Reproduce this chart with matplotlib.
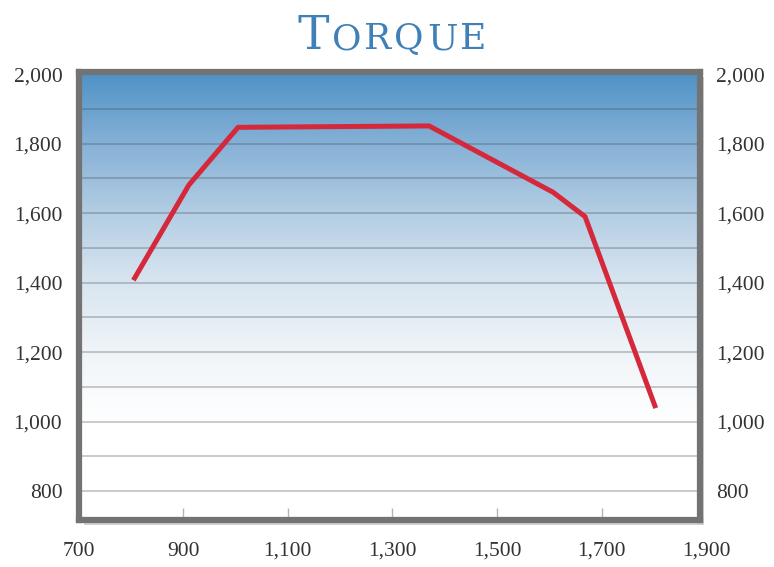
import matplotlib.pyplot as plt
import numpy as np
from matplotlib.colors import LinearSegmentedColormap
from matplotlib.patches import Rectangle
import matplotlib.transforms as mtransforms

# Données
rpm = [805, 911, 1005, 1370, 1607, 1668, 1803]
torque = [1407, 1681, 1847, 1851, 1660, 1590, 1039]
x_ticks = [700, 900, 1100, 1300, 1500, 1700, 1900]
y_ticks = [800, 1000, 1200, 1400, 1600, 1800, 2000]

fig = plt.figure(figsize=(7.74, 5.67), dpi=100)
ax_rect = [0.102, 0.0829, 0.802, 0.790]
ax = fig.add_axes(ax_rect)

xmin, xmax = 701, 1887
ymin, ymax = 717, 2006

# Fond en dégradé bleu -> blanc
cmap = LinearSegmentedColormap.from_list(
    'bg', [(0.0, '#ffffff'), (0.22, '#ffffff'), (0.377, '#eff4f8'),
           (0.532, '#d8e5f0'), (0.687, '#b3cde3'), (0.841, '#86b1d6'),
           (1.0, '#4f92c6')])
grad = np.linspace(0, 1, 256).reshape(-1, 1).repeat(4, axis=1)
ax.imshow(grad, cmap=cmap, aspect='auto', origin='lower',
          extent=[xmin, xmax, ymin, ymax], zorder=0, interpolation='bilinear')

# Grille horizontale tous les 100
for yv in np.arange(800, 2001, 100):
    ax.axhline(yv, color='#3d4750', alpha=0.3, linewidth=1.3, zorder=1)

ax.plot(rpm, torque, color='#d5283a', linewidth=3.6, solid_joinstyle='round',
        solid_capstyle='butt', zorder=3)

ax.set_xticks(x_ticks)
ax.set_xticklabels([])
ax.set_yticks(y_ticks)
ax.set_yticklabels([f'{v:,}' for v in y_ticks])
ax.set_xlim(xmin, xmax)
ax.set_ylim(ymin, ymax)
ax.tick_params(axis='x', direction='in', length=9, width=1, color='#b5b5b5')
ax.tick_params(axis='y', length=0, pad=12, labelsize=15.5, labelcolor='#333333',
               labelright=True)
for t in ax.yaxis.get_major_ticks():
    t.label1.set_fontfamily('Liberation Serif')
    t.label2.set_fontfamily('Liberation Serif')

# Étiquettes x (certaines hors du cadre)
trans = mtransforms.blended_transform_factory(ax.transData, ax.transAxes)
for v in x_ticks:
    ax.text(v, -0.07, f'{v:,}', transform=trans, ha='center', va='center',
            fontsize=15.5, family='Liberation Serif', color='#333333',
            clip_on=False)

# Cadre gris épais
for s in ax.spines.values():
    s.set_color('#737373')
    s.set_linewidth(4.5)
    s.set_zorder(5)

# Ombre portée légère
shadow = Rectangle((ax_rect[0] + 0.006, ax_rect[1] - 0.008), ax_rect[2], ax_rect[3],
                   transform=fig.transFigure, facecolor='#d2d2d2',
                   edgecolor='none', zorder=-1)
fig.patches.append(shadow)
ax.set_zorder(2)

# Titre en petites capitales, lettres espacées
renderer = fig.canvas.get_renderer()
letters = [('T', 34), ('O', 26), ('R', 26), ('Q', 26), ('U', 26), ('E', 26)]
x_px = 297
gap = 3
for ch, size in letters:
    t = fig.text(x_px / 774, 1 - 49 / 567, ch, fontsize=size, family='DejaVu Serif',
                 color='#3f80b6', ha='left', va='baseline')
    bb = t.get_window_extent(renderer)
    x_px += bb.width + gap

fig.savefig('out.png', dpi=100)
